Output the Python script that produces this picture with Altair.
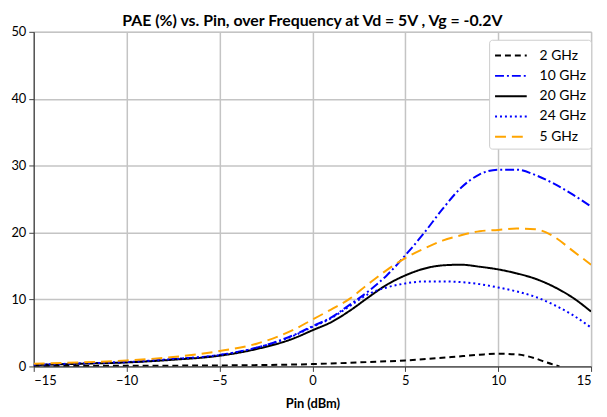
import altair as alt
import pandas as pd

# Pin (dBm) and PAE (%) per series
x_2 = [-15, -10, -5, 0, 2.5, 5, 7.5, 9, 10, 11, 12, 12.5, 13.3]
y_2 = [0.05, 0.1, 0.15, 0.35, 0.6, 0.9, 1.4, 1.75, 1.9, 1.8, 1.2, 0.7, 0.0]

x_grid = [-15, -12.5, -10, -7.5, -5, -3, -1, 0, 1, 2, 3, 4, 5, 6, 7, 8, 9, 10, 11, 12, 13, 14, 15]

y_10 = [0.25, 0.45, 0.65, 1.1, 1.7, 2.8, 4.7, 6.0, 7.3, 9.2, 11.2, 13.6, 16.6, 19.9, 23.5, 26.7, 28.7, 29.4, 29.4, 28.6, 27.3, 25.7, 23.9]
y_20 = [0.2, 0.4, 0.6, 1.0, 1.6, 2.6, 4.2, 5.4, 6.6, 8.3, 10.3, 12.2, 13.6, 14.6, 15.1, 15.2, 14.9, 14.5, 13.9, 13.1, 11.9, 10.3, 8.2]
y_24 = [0.25, 0.45, 0.65, 1.1, 1.7, 2.8, 4.6, 5.9, 7.2, 9.0, 10.8, 11.8, 12.4, 12.7, 12.7, 12.6, 12.3, 11.8, 11.2, 10.4, 9.2, 7.7, 5.8]
y_5 = [0.4, 0.6, 0.9, 1.4, 2.3, 3.4, 5.5, 7.0, 8.5, 10.1, 12.3, 14.4, 16.2, 17.6, 18.8, 19.6, 20.2, 20.4, 20.6, 20.5, 19.4, 17.3, 15.2]

series = ["2 GHz", "10 GHz", "20 GHz", "24 GHz", "5 GHz"]
colors = ["black", "#0000ff", "black", "#0000ff", "#ffa500"]
dashes = [[6, 4], [9, 3, 2, 3], [1, 0], [2, 3], [11, 6]]

rows = []
for s, xs, ys in [("2 GHz", x_2, y_2), ("10 GHz", x_grid, y_10), ("20 GHz", x_grid, y_20),
                  ("24 GHz", x_grid, y_24), ("5 GHz", x_grid, y_5)]:
    for a, b in zip(xs, ys):
        rows.append({"Pin": a, "PAE": b, "Freq": s})
df = pd.DataFrame(rows)

font = "Lato"

chart = alt.Chart(df).mark_line(strokeWidth=2, interpolate="monotone", clip=True).encode(
    x=alt.X("Pin:Q", title="Pin (dBm)",
            scale=alt.Scale(domain=[-15, 15], nice=False),
            axis=alt.Axis(values=[-15, -10, -5, 0, 5, 10, 15])),
    y=alt.Y("PAE:Q", title=None,
            scale=alt.Scale(domain=[0, 50], nice=False),
            axis=alt.Axis(values=[0, 10, 20, 30, 40, 50])),
    color=alt.Color("Freq:N", sort=series,
                    scale=alt.Scale(domain=series, range=colors), title=None),
    strokeDash=alt.StrokeDash("Freq:N", sort=series,
                              scale=alt.Scale(domain=series, range=dashes), title=None),
    detail="Freq:N",
).properties(
    width=563, height=338,
    title=alt.TitleParams("PAE (%) vs. Pin, over Frequency at Vd = 5V , Vg = -0.2V",
                          font=font, fontSize=16, fontWeight="bold", color="black",
                          offset=-3),
    autosize=alt.AutoSizeParams(type="none"),
    padding={"left": 26, "top": 22, "right": 8, "bottom": 48},
).configure_view(
    stroke="#b0b0b0", strokeWidth=1
).configure_axis(
    labelFont=font, labelFontSize=13, labelColor="black",
    titleFont=font, titleFontSize=13, titleFontWeight="bold", titleColor="black",
    gridColor="#c4c4c4", gridWidth=1.5,
    domainColor="#404040", domainWidth=1.2,
    tickColor="#404040", tickSize=5,
    labelPadding=3,
).configure_axisX(titlePadding=10).configure_legend(
    orient="none", legendX=460, legendY=8,
    labelFont=font, labelFontSize=14, labelColor="black",
    symbolType="M-1.6,0H1.6", symbolSize=400, symbolStrokeWidth=2, symbolOffset=6,
    strokeColor="#cccccc", fillColor="white", padding=5, cornerRadius=3,
    rowPadding=2.5, labelOffset=18,
)

chart.save("out.html", embed_options={"renderer": "svg", "actions": False})
